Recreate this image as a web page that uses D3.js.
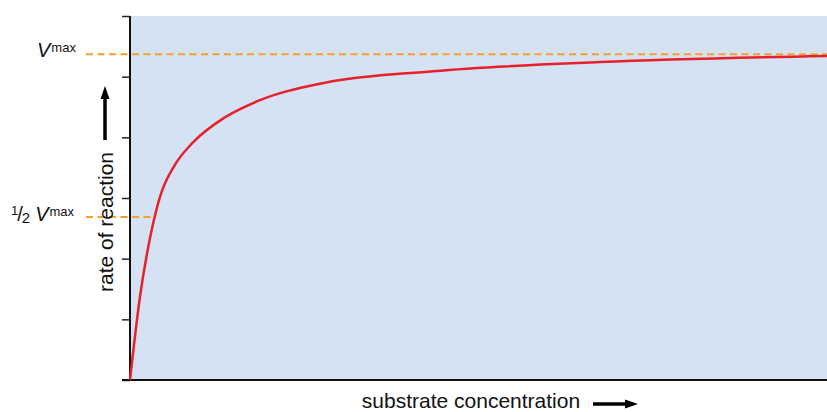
<!DOCTYPE html>
<html><head><meta charset="utf-8">
<script src="https://cdn.jsdelivr.net/npm/d3@7"></script>
<style>body{margin:0;background:#fff}svg{display:block;font-family:"Liberation Sans",Arial,Helvetica,sans-serif}</style>
</head><body><svg id="c" width="827" height="412"></svg>
<script>
const substrate = [0,0.143,0.287,0.43,0.646,0.89,1.363,1.836,2.798,4.35,6.74,10];
const rate = [0,1.37,2.34,3.02,3.55,3.90,4.33,4.60,4.90,5.09,5.24,5.34];
const yTicks = [0,1,2,3,4,5,6];
const vmax = 5.37;
const halfVmax = vmax/2;
const xTitle = "substrate concentration";
const yTitle = "rate of reaction";

(function(){
const svg = d3.select("#c");
const pL=130, pR=827, pT=16, pB=380;
const x = d3.scaleLinear().domain([0,10]).range([pL,pR]);
const y = d3.scaleLinear().domain([0,6]).range([pB,pT]);

svg.append("rect").attr("x",pL).attr("y",pT).attr("width",pR-pL).attr("height",pB-pT).attr("fill","#d4e2f4");

// y axis
const ya = svg.append("g").attr("transform",`translate(${pL},0)`)
  .call(d3.axisLeft(y).tickValues(yTicks).tickSize(8).tickFormat(""));
ya.select(".domain").attr("stroke","#111").attr("stroke-width",2).attr("d",`M0,${pT}V${pB}`);
ya.selectAll(".tick line").attr("stroke","#222").attr("stroke-width",1.5);

// x axis line
svg.append("line").attr("x1",pL-8).attr("x2",pR).attr("y1",pB).attr("y2",pB).attr("stroke","#111").attr("stroke-width",2);

// dashed lines
const halfX = d3.scaleLinear().domain(rate).range(substrate)(halfVmax);
svg.append("line").attr("x1",86).attr("x2",pR).attr("y1",y(vmax)).attr("y2",y(vmax))
  .attr("stroke","#f5a02a").attr("stroke-width",2).attr("stroke-dasharray","7,4.5");
svg.append("line").attr("x1",86).attr("x2",x(halfX)).attr("y1",y(halfVmax)).attr("y2",y(halfVmax))
  .attr("stroke","#f5a02a").attr("stroke-width",2).attr("stroke-dasharray","7,4.5");

// curve
const line = d3.line().x((d,i)=>x(substrate[i])).y(d=>y(d)).curve(d3.curveMonotoneX);
svg.append("path").attr("d",line(rate)).attr("fill","none").attr("stroke","#e8202a").attr("stroke-width",2.5);

// labels
const t1 = svg.append("text").attr("x",37).attr("y",y(vmax)+3).attr("font-size",20).attr("fill","#111");
t1.append("tspan").attr("font-style","italic").text("V");
t1.append("tspan").attr("font-size",13).attr("dx",1).attr("dy",-5).text("max");

const t2 = svg.append("text").attr("x",11).attr("y",y(halfVmax)+4).attr("font-size",20).attr("fill","#111");
t2.append("tspan").attr("font-size",13).attr("dy",-6).text("1");
t2.append("tspan").attr("dy",6).attr("dx",-1).text("/");
t2.append("tspan").attr("font-size",15).attr("dy",2).attr("dx",-1).text("2");
t2.append("tspan").attr("font-style","italic").attr("dx",5).attr("dy",-2).text("V");
t2.append("tspan").attr("font-size",13).attr("dx",1).attr("dy",-5).text("max");

// y title
svg.append("text").attr("transform","translate(113,222) rotate(-90)").attr("text-anchor","middle")
  .attr("font-size",21).attr("fill","#111").text(yTitle);
svg.append("line").attr("x1",105).attr("x2",105).attr("y1",140).attr("y2",96).attr("stroke","#000").attr("stroke-width",3.5);
svg.append("path").attr("d","M105,86 L100.5,99 L109.5,99 Z").attr("fill","#000");

// x title
svg.append("text").attr("x",471).attr("y",408).attr("text-anchor","middle").attr("font-size",21).attr("fill","#111").text(xTitle);
svg.append("line").attr("x1",593).attr("x2",626).attr("y1",404).attr("y2",404).attr("stroke","#000").attr("stroke-width",3.5);
svg.append("path").attr("d","M638,404 L625,399.5 L625,408.5 Z").attr("fill","#000");
})();
</script></body></html>
